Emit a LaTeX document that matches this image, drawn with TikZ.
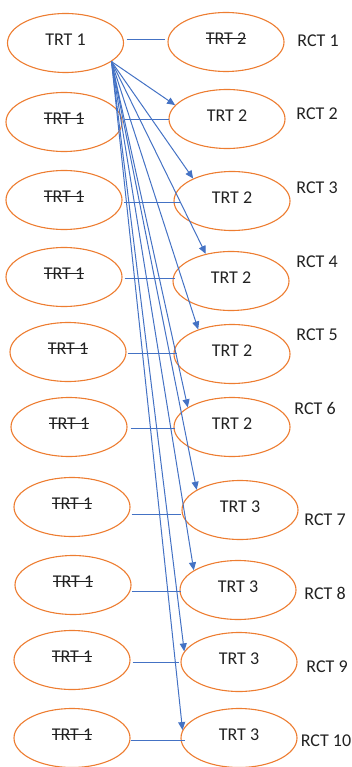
\documentclass[tikz,border=0pt]{standalone}
\usepackage{fontspec}
\setmainfont{Carlito}
\usetikzlibrary{shapes.geometric,arrows.meta}
\definecolor{ovalline}{HTML}{ED7D31}
\definecolor{linkblue}{HTML}{4472C4}
\definecolor{txt}{HTML}{222222}
% struck-through text
\newcommand{\strk}[1]{\setbox0\hbox{#1}\rlap{\rule[0.3em]{\wd0}{0.9pt}}\box0}
\begin{document}
\begin{tikzpicture}[x=1pt,y=-1pt,
  oval/.style={ellipse,draw=ovalline,line width=1.1pt,minimum width=116pt,minimum height=59pt,inner sep=0pt},
  lbl/.style={font=\fontsize{18}{20}\selectfont,text=txt,inner sep=0pt},
  link/.style={draw=linkblue,line width=1pt},
  arr/.style={link,-{Triangle[length=8pt,width=7pt]}}]
\useasboundingbox (0,0) rectangle (352,767);
% left column
\foreach \i/\x/\y in {1/65.5/43,2/64/122,3/64/200,4/64/277,5/68/352,6/69/427,7/72/507,8/73/585,9/72/660,10/72/738}
  \node[oval] (l\i) at (\x,\y) {};
% right column
\foreach \i/\x/\y in {1/226/42,2/227/119,3/232/201,4/231/281,5/232/354,6/232/427,7/240/510,8/238/590,9/239/662,10/239/738}
  \node[oval] (r\i) at (\x,\y) {};
% texts, set a little above the centre of each oval
\node[lbl] (t1) at ([yshift=3.5pt]l1.center) {TRT 1};
\foreach \i in {2,...,10}
  \node[lbl] (tl\i) at ([yshift=3.5pt]l\i.center) {\strk{TRT 1}};
\node[lbl] (tr1) at ([yshift=3.5pt]r1.center) {\strk{TRT 2}};
\foreach \i/\t in {2/2,3/2,4/2,5/2,6/2,7/3,8/3,9/3,10/3}
  \node[lbl] (tr\i) at ([yshift=3.5pt]r\i.center) {TRT \t};
% trial labels
\foreach \i/\x/\y in {1/318/41,2/317/114,3/317/188,4/317/262,5/317/335,6/315/408,7/325/520,8/325/593,9/327/667,10/326/741}
  \node[lbl] (rct\i) at (\x,\y) {RCT \i};
% horizontal links
\foreach \i/\a/\b/\d in {1/2.5/-2/-3,2/2/1/-2,3/1/8/3,4/2/3/1,5/1/4/1,6/3/2/1,7/1/0/7,8/0/2/6,9/2/-1/2,10/0/5/2}
  \draw[link] ([shift={(\a,\d)}]l\i.east) -- ([shift={(\b,\d)}]l\i.east -| r\i.west);
% arrows fanning out of the first node
\coordinate (src) at (l1.-22);
\foreach \i/\ang in {2/165,3/150,4/133,5/144,6/156,7/155,8/156,9/169,10/172}
  \draw[arr] (src) -- (r\i.\ang);
\end{tikzpicture}
\end{document}
